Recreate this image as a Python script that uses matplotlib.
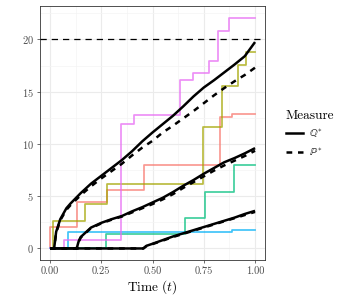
import matplotlib
matplotlib.use("Agg")
import matplotlib.pyplot as plt
from matplotlib.lines import Line2D
from matplotlib.ticker import MultipleLocator

plt.rcParams['font.family'] = 'serif'
plt.rcParams['font.serif'] = ['cmr10', 'DejaVu Serif']
plt.rcParams['mathtext.fontset'] = 'cm'
plt.rcParams['axes.formatter.use_mathtext'] = True

# ---- step paths (jump times and levels after each jump) ----
salmon_t = [0.0, 0.13, 0.28, 0.459, 0.831, 0.889]
salmon_v = [2.07, 4.49, 5.57, 8.0, 12.62, 12.9]
olive_t = [0.016, 0.171, 0.28, 0.745, 0.837, 0.915, 0.956]
olive_v = [2.58, 4.23, 6.21, 11.63, 15.55, 17.55, 18.8]
green_t = [0.273, 0.659, 0.756, 0.899]
green_v = [1.4, 2.87, 5.41, 8.0]
blue_t = [0.086, 0.889]
blue_v = [1.53, 1.75]
pink_t = [0.068, 0.347, 0.41, 0.634, 0.696, 0.776, 0.818, 0.872]
pink_v = [0.85, 11.95, 12.8, 16.15, 16.75, 17.94, 20.85, 22.08]

paths = [(salmon_t, salmon_v, '#F8766D'), (olive_t, olive_v, '#A3A500'),
         (green_t, green_v, '#00BF7D'), (blue_t, blue_v, '#00B0F6'),
         (pink_t, pink_v, '#E76BF3')]

# ---- expected curves ----
top_t = [0.0, 0.02, 0.03, 0.05, 0.08, 0.1, 0.15, 0.2, 0.25, 0.3, 0.35, 0.4, 0.45, 0.5,
         0.55, 0.6, 0.65, 0.7, 0.75, 0.8, 0.85, 0.9, 0.95, 1.0]
top_q = [0, 0, 1.6, 2.8, 3.85, 4.3, 5.3, 6.2, 6.95, 7.7, 8.45, 9.3, 10.25, 11.1,
         11.9, 12.7, 13.6, 14.55, 15.4, 16.1, 16.85, 17.6, 18.4, 19.75]
top_p = [0, 0, 1.5, 2.7, 3.7, 4.15, 5.1, 5.95, 6.7, 7.4, 8.1, 8.9, 9.65, 10.3,
         11.1, 11.75, 12.45, 13.15, 13.9, 14.65, 15.35, 16.0, 16.6, 17.3]
mid_t = [0.0, 0.13, 0.14, 0.15, 0.2, 0.25, 0.3, 0.35, 0.4, 0.45, 0.5, 0.55, 0.6, 0.65,
         0.7, 0.75, 0.8, 0.85, 0.9, 0.95, 1.0]
mid_q = [0, 0, 0.7, 1.1, 2.0, 2.45, 2.8, 3.1, 3.55, 3.95, 4.4, 4.85, 5.4, 6.0,
         6.55, 7.15, 7.7, 8.25, 8.65, 9.1, 9.6]
mid_p = [0, 0, 0.65, 1.05, 1.95, 2.4, 2.75, 3.05, 3.45, 3.85, 4.25, 4.7, 5.2, 5.8,
         6.35, 6.9, 7.45, 7.95, 8.4, 8.85, 9.35]
low_t = [0.0, 0.455, 0.47, 0.5, 0.55, 0.6, 0.65, 0.7, 0.75, 0.8, 0.85, 0.9, 0.95, 1.0]
low_q = [0, 0, 0.25, 0.45, 0.8, 1.15, 1.45, 1.75, 2.05, 2.35, 2.65, 2.95, 3.3, 3.6]
low_p = [0, 0, 0.22, 0.42, 0.75, 1.1, 1.4, 1.7, 2.0, 2.3, 2.6, 2.9, 3.2, 3.5]

threshold = 20
x_ticks = [0, 0.25, 0.5, 0.75, 1.0]
x_labels = ['0.00', '0.25', '0.50', '0.75', '1.00']
y_ticks = [0, 5, 10, 15, 20]

fig = plt.figure(figsize=(3.5, 3.0), dpi=100)
ax = fig.add_axes([0.1136, 0.1333, 0.758 - 0.1136, 0.98 - 0.1333])

for tt, vv, col in paths:
    xs = [0.0] + tt + [1.0]
    ys = [0.0] + vv + [vv[-1]]
    ax.step(xs, ys, where='post', color=col, lw=1.25, alpha=0.75, zorder=3)

ax.axhline(threshold, color='black', lw=0.9, ls=(0, (5, 4)), zorder=4)

for tt, q, p in [(top_t, top_q, top_p), (mid_t, mid_q, mid_p), (low_t, low_q, low_p)]:
    ax.plot(tt, p, color='black', lw=1.8, ls=(0, (2.3, 2.3)), zorder=5)
    ax.plot(tt, q, color='black', lw=1.8, ls='-', zorder=6, solid_capstyle='butt')

ax.set_xlim(-0.05, 1.05)
ax.set_ylim(-1.105, 23.2)
ax.set_xticks(x_ticks)
ax.set_xticklabels(x_labels)
ax.set_yticks(y_ticks)
ax.xaxis.set_minor_locator(MultipleLocator(0.125))
ax.yaxis.set_minor_locator(MultipleLocator(2.5))
ax.grid(which='major', color='#EBEBEB', lw=0.8, zorder=0)
ax.grid(which='minor', color='#F4F4F4', lw=0.5, zorder=0)
ax.set_axisbelow(True)
ax.tick_params(which='major', length=2.5, width=0.5, color='#333333',
               labelsize=7.5, labelcolor='#4D4D4D', pad=2)
ax.tick_params(which='minor', length=0)
for s in ax.spines.values():
    s.set_color('#333333')
    s.set_linewidth(0.6)
ax.set_xlabel('Time ($t$)', fontsize=9.6, labelpad=2)

handles = [Line2D([], [], color='black', lw=1.8, ls='-'),
           Line2D([], [], color='black', lw=1.8, ls=(0, (2.3, 2.3)))]
leg = fig.legend(handles, [r'$\mathbb{Q}^{*}$', r'$\mathbb{P}^{*}$'], title='Measure',
                 loc='center left', bbox_to_anchor=(0.79, 0.555), frameon=False,
                 fontsize=7.5, title_fontsize=9.6, handlelength=1.6, handletextpad=0.6,
                 labelspacing=0.6)
leg._legend_box.align = 'left'

fig.savefig('out.png', dpi=100)
